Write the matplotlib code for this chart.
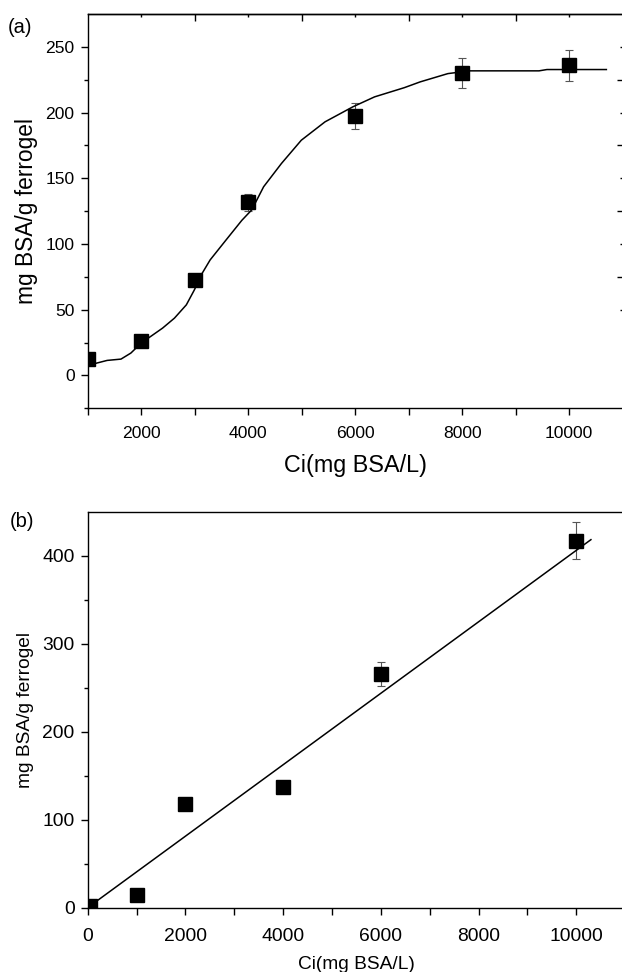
import matplotlib
matplotlib.use("Agg")
import matplotlib.pyplot as plt

plt.rcParams['font.family'] = ['Liberation Sans', 'DejaVu Sans']

# (a) adsorption isotherm: measured points and fitted curve
ci_a = [1000, 2000, 3000, 4000, 6000, 8000, 10000]
q_a = [12.7, 26.3, 72.7, 131.7, 197.6, 230.2, 236.0]
err_a = [0, 2, 3, 6.5, 10, 11.5, 11.7]

curve_x = [1000, 1363, 1622, 1807, 2000, 2400, 2622, 2844, 2993, 3141, 3289,
           3585, 3881, 4067, 4289, 4622, 4993, 5437, 5956, 6363, 6919, 7215,
           7733, 8141, 9437, 9585, 10696]
curve_y = [7.6, 11.4, 12.4, 17.0, 24.6, 36.0, 43.6, 53.7, 65.0, 77.8, 87.9,
           103.0, 118.0, 126.0, 143.6, 161.3, 179.0, 193.0, 204.4, 212.0,
           219.0, 223.4, 229.7, 231.8, 231.8, 232.8, 232.8]

# (b) linear region with least-squares line
ci_b = [50, 1000, 2000, 4000, 6000, 10000]
q_b = [2, 14.4, 117.8, 137.5, 265.5, 417.0]
err_b = [0, 0, 0, 0, 13.6, 20.7]
fit_slope = 0.0406
fit_intercept = 0.0
fit_range = [0, 10300]

xlabel = "Ci(mg BSA/L)"
ylabel = "mg BSA/g ferrogel"

fig = plt.figure(figsize=(6.22, 9.72), dpi=100)
ax1 = fig.add_axes([0.141, 0.580, 0.860, 0.4055])
ax2 = fig.add_axes([0.141, 0.0662, 0.864, 0.4074])


def style_spines(ax):
    for s in ax.spines.values():
        s.set_linewidth(1.0)


# ---- panel (a)
ax1.errorbar(ci_a, q_a, yerr=err_a, fmt='none', ecolor='#555555',
             elinewidth=0.8, capsize=3, capthick=0.8, zorder=2)
ax1.plot(curve_x, curve_y, color='black', lw=1.1, zorder=3)
ax1.plot(ci_a, q_a, 's', color='black', ms=10.5, zorder=4)
ax1.set_xlim(1000, 11000)
ax1.set_ylim(-25, 275)
ax1.set_xticks([2000, 4000, 6000, 8000, 10000])
ax1.set_xticks([1000, 3000, 5000, 7000, 9000, 11000], minor=True)
ax1.set_yticks([0, 50, 100, 150, 200, 250])
ax1.set_yticks([-25, 25, 75, 125, 175, 225], minor=True)
ax1.tick_params(axis='both', which='major', direction='out', length=5,
                width=1, labelsize=12.6)
ax1.tick_params(axis='x', which='major', pad=7.5)
ax1.tick_params(axis='y', which='major', pad=4.5)
ax1.tick_params(axis='both', which='minor', direction='out', length=5,
                width=1)
ax1.tick_params(axis='y', which='minor', length=3)
ax1.spines['right'].set_visible(False)
style_spines(ax1)
ax1.set_xlabel(xlabel, fontsize=16.8, labelpad=10)
ax1.set_ylabel(ylabel, fontsize=16.4, labelpad=5)

# ticks along the top edge
top = ax1.secondary_xaxis('top')
top.set_xticks([3000, 5000, 7000, 9000])
top.set_xticks([2000, 4000, 6000, 8000, 10000], minor=True)
top.set_xticklabels([])
top.tick_params(which='major', direction='in', length=5, width=1)
top.tick_params(which='minor', direction='in', length=2.5, width=1)
top.spines['top'].set_linewidth(1.0)

# ticks along the right edge, no spine
right = ax1.twinx()
right.set_ylim(-25, 275)
right.set_yticks([75, 125, 175, 225])
right.set_yticks([50, 100, 150, 200, 250], minor=True)
right.set_yticklabels([])
right.tick_params(which='major', direction='in', length=4.5, width=1)
right.tick_params(which='minor', direction='in', length=2, width=1)
for s in right.spines.values():
    s.set_visible(False)

fig.text(0.013, 0.972, "(a)", fontsize=14.5, ha='left', va='center')

# ---- panel (b)
fit_y = [fit_slope * x + fit_intercept for x in fit_range]
ax2.errorbar(ci_b, q_b, yerr=err_b, fmt='none', ecolor='#555555',
             elinewidth=0.8, capsize=3, capthick=0.8, zorder=2)
ax2.plot(fit_range, fit_y, color='black', lw=1.1, zorder=3)
ax2.plot(ci_b, q_b, 's', color='black', ms=10.5, zorder=4)
ax2.set_xlim(0, 11000)
ax2.set_ylim(0, 450)
ax2.set_xticks([0, 2000, 4000, 6000, 8000, 10000])
ax2.set_xticks([1000, 3000, 5000, 7000, 9000], minor=True)
ax2.set_yticks([0, 100, 200, 300, 400])
ax2.set_yticks([50, 150, 250, 350], minor=True)
ax2.tick_params(axis='both', which='major', direction='out', length=5,
                width=1, labelsize=13.9)
ax2.tick_params(axis='x', which='major', pad=9.5)
ax2.tick_params(axis='y', which='major', pad=4.5)
ax2.tick_params(axis='both', which='minor', direction='out', length=3,
                width=1)
ax2.tick_params(axis='x', which='minor', length=5)
ax2.spines['right'].set_visible(False)
style_spines(ax2)
ax2.set_xlabel(xlabel, fontsize=13.8, labelpad=8)
ax2.set_ylabel(ylabel, fontsize=13.8, labelpad=6)

fig.text(0.016, 0.463, "(b)", fontsize=14.5, ha='left', va='center')

fig.savefig("out.png", dpi=100)
